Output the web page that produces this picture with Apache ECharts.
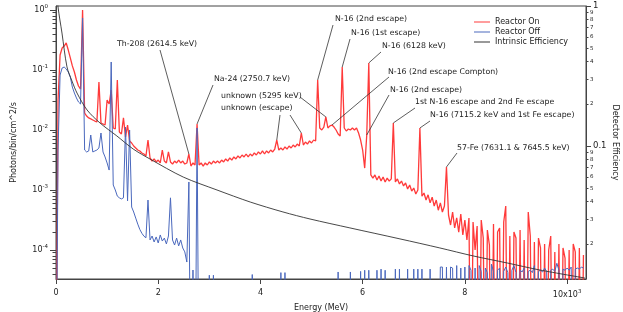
<!DOCTYPE html>
<html><head><meta charset="utf-8">
<script src="https://cdn.jsdelivr.net/npm/echarts@6/dist/echarts.min.js"></script>
<style>html,body{margin:0;padding:0;background:#fff}#c{width:623px;height:312px}</style>
</head><body><div id="c"></div>
<script>
// ---------------- DATA ----------------
const channelWidth = 0.04; // MeV per spectrum channel (channel i sits at i*channelWidth)

// Reactor On, photons/bin/cm^2/s per channel (0 = empty channel)
const reactorOn = [
  0, 0.0316, 0.178, 0.233, 0.251, 0.282, 0.215, 0.159, 0.117, 0.0926,
  0.0681, 0.0541, 0.0482, 1.0, 0.0192, 0.0171, 0.0159, 0.0153, 0.0147, 0.0141,
  0.0136, 0.0631, 0.0131, 0.0126, 0.0121, 0.0316, 0.0271, 0.0464, 0.0108, 0.0104,
  0.0681, 0.00926, 0.00858, 0.0159, 0.00764, 0.0121, 0.00656, 0.00607, 0.00541, 0.00501,
  0.00464, 0.00447, 0.00414, 0.00398, 0.00369, 0.00681, 0.00342, 0.00304, 0.00329, 0.00293,
  0.00316, 0.00282, 0.00464, 0.00304, 0.00282, 0.0043, 0.00293, 0.00271, 0.00304, 0.00282,
  0.00316, 0.00282, 0.00304, 0.00271, 0.00282, 0.00398, 0.00251, 0.00282, 0.00261, 0.0126,
  0.00261, 0.00282, 0.00251, 0.00282, 0.00261, 0.00293, 0.00271, 0.00304, 0.00282, 0.00304,
  0.00282, 0.00316, 0.00293, 0.00329, 0.00304, 0.00342, 0.00316, 0.00355, 0.00329, 0.00369,
  0.00342, 0.00383, 0.00355, 0.00398, 0.00355, 0.00398, 0.00369, 0.00414, 0.00383, 0.0043,
  0.00398, 0.00447, 0.00398, 0.00447, 0.00414, 0.00464, 0.0043, 0.00482, 0.00681, 0.00464,
  0.00501, 0.00464, 0.00521, 0.00482, 0.00541, 0.00501, 0.00562, 0.00521, 0.00584, 0.00541,
  0.00891, 0.00562, 0.00631, 0.00584, 0.00656, 0.00607, 0.00681, 0.00656, 0.0681, 0.0108,
  0.01, 0.0112, 0.0165, 0.0108, 0.0117, 0.0121, 0.0112, 0.01, 0.00858, 0.00794,
  0.112, 0.0108, 0.00962, 0.0104, 0.01, 0.0108, 0.01, 0.0108, 0.00891, 0.00681,
  0.00464, 0.00232, 0.00825, 0.131, 0.00178, 0.00158, 0.00178, 0.00147, 0.00171, 0.00141,
  0.00165, 0.00136, 0.00158, 0.00141, 0.00153, 0.0131, 0.00136, 0.00153, 0.00126, 0.00141,
  0.00117, 0.00131, 0.00104, 0.00121, 0.00096, 0.00108, 0.00086, 0.001, 0.0108, 0.00079,
  0.00089, 0.00068, 0.00083, 0.00061, 0.00076, 0.00054, 0.00068, 0.00046, 0.00061, 0.00043,
  0.00054, 0.00242, 3.83e-4, 2.61e-4, 4.3e-4, 2.33e-4, 3.42e-4, 1.99e-4, 3.98e-4, 1.78e-4,
  3.16e-4, 1.47e-4, 3.42e-4, 0, 2.93e-4, 1.0e-4, 2.51e-4, 0, 3.16e-4, 1.58e-4,
  0, 2.15e-4, 1.21e-4, 0, 2.71e-4, 0, 1.99e-4, 2.33e-4, 0, 2.93e-4,
  5.4e-4, 0, 1.71e-4, 0, 1.99e-4, 1.58e-4, 0, 2.15e-4, 0, 1.47e-4,
  0, 4.3e-4, 1.71e-4, 0, 1.36e-4, 0, 1.58e-4, 1.08e-4, 0, 1.26e-4,
  0, 1.0e-4, 1.71e-4, 0, 9.3e-5, 0, 1.26e-4, 0, 1.08e-4, 7.3e-5,
  0, 1.0e-4, 0, 1.26e-4, 9.3e-5, 0, 1.08e-4, 0, 8.25e-5
];

// Reactor Off, photons/bin/cm^2/s per channel (0 = empty channel)
const reactorOff = [
  0, 0.00464, 0.0825, 0.108, 0.112, 0.104, 0.0926, 0.0764, 0.052, 0.0413,
  0.0342, 0.0293, 0.0271, 0.736, 0.00464, 0.0043, 0.00447, 0.00825, 0.0043, 0.00447,
  0.00464, 0.00501, 0.00891, 0.0043, 0.00355, 0.00282, 0.00215, 0.136, 0.00121, 0.001,
  0.00079, 0.00074, 0.00071, 0.00074, 0.0112, 0.00066, 0.01, 0.00052, 0.00043, 0.00034,
  0.00027, 0.00022, 0.00019, 0.00017, 0.00016, 0.00068, 1.47e-4, 1.71e-4, 1.36e-4, 1.65e-4,
  1.31e-4, 1.78e-4, 1.41e-4, 1.58e-4, 1.26e-4, 1.71e-4, 7.4e-4, 1.47e-4, 1.21e-4, 1.58e-4,
  1.17e-4, 1.47e-4, 1.08e-4, 9.3e-5, 6.3e-5, 0.00136, 0, 4.64e-5, 0, 0.0108,
  0, 0, 0, 0, 0, 3.8e-5, 0, 3.8e-5, 0, 0,
  0, 0, 0, 0, 0, 0, 0, 0, 0, 0,
  0, 0, 0, 0, 0, 0, 3.9e-5, 0, 0, 0,
  0, 0, 0, 0, 0, 0, 0, 0, 0, 0,
  4.2e-5, 0, 4.2e-5, 0, 0, 0, 0, 0, 0, 0,
  0, 0, 0, 0, 0, 0, 0, 0, 0, 0,
  0, 0, 0, 0, 0, 0, 0, 0, 4.3e-5, 0,
  0, 0, 0, 0, 4.3e-5, 0, 0, 0, 0, 4.4e-5,
  0, 4.6e-5, 0, 4.6e-5, 0, 0, 0, 4.6e-5, 0, 4.8e-5,
  0, 4.6e-5, 0, 0, 0, 0, 4.8e-5, 0, 4.8e-5, 0,
  0, 0, 4.8e-5, 0, 0, 4.8e-5, 0, 4.8e-5, 0, 4.8e-5,
  0, 0, 0, 4.8e-5, 0, 0, 0, 0, 5.2e-5, 5.2e-5,
  0, 5.2e-5, 0, 5.2e-5, 5.0e-5, 0, 5.5e-5, 0, 5.0e-5, 0,
  5.2e-5, 0, 5.5e-5, 4.6e-5, 0, 5.0e-5, 0, 5.5e-5, 4.4e-5, 0,
  5.0e-5, 4.2e-5, 0, 5.8e-5, 4.4e-5, 0, 4.6e-5, 5.0e-5, 0, 4.4e-5,
  5.2e-5, 4.2e-5, 0, 4.6e-5, 5.5e-5, 4.2e-5, 0, 4.6e-5, 4.3e-5, 5.0e-5,
  0, 4.4e-5, 4.6e-5, 4.2e-5, 5.5e-5, 0, 4.4e-5, 4.6e-5, 4.3e-5, 5.0e-5,
  4.4e-5, 0, 4.6e-5, 4.8e-5, 4.4e-5, 6.0e-5, 4.6e-5, 0, 4.8e-5, 4.6e-5,
  5.0e-5, 4.6e-5, 5.2e-5, 0, 4.8e-5, 5.0e-5, 4.8e-5, 5.2e-5, 5.0e-5
];

// Intrinsic detector efficiency (right axis)
const effEnergy = [0.02, 0.04, 0.117, 0.215, 0.313, 0.411, 0.607, 0.861, 1.19, 1.51, 1.84, 2.49, 3.15, 3.80, 4.44, 4.97, 5.75, 6.73, 7.51, 8.16, 8.83, 9.47, 10.35];
const effValue  = [1.3, 0.984, 0.641, 0.367, 0.291, 0.239, 0.181, 0.146, 0.118, 0.0952, 0.0807, 0.060, 0.0485, 0.0398, 0.0338, 0.0301, 0.026, 0.0217, 0.0187, 0.0164, 0.0146, 0.013, 0.0114];

// Tick values
const xTickValues = [0, 2, 4, 6, 8, 10];
const leftMajorTicks = [1e-4, 1e-3, 1e-2, 1e-1, 1];
const rightMajorTicks = [0.1, 1];
const rightMinorTicks = [0.02, 0.03, 0.04, 0.05, 0.06, 0.07, 0.08, 0.09, 0.2, 0.3, 0.4, 0.5, 0.6, 0.7, 0.8, 0.9];

// Peak annotations: text and the Reactor On channel(s) each one points at
const annoText = [
  'Th-208 (2614.5 keV)', 'Na-24 (2750.7 keV)', 'unknown (5295 keV)', 'unknown (escape)',
  'N-16 (2nd escape)', 'N-16 (1st escape)', 'N-16 (6128 keV)', 'N-16 (2nd escape Compton)',
  'N-16 (2nd escape)', '1st N-16 escape and 2nd Fe escape', 'N-16 (7115.2 keV and 1st Fe escape)',
  '57-Fe (7631.1 & 7645.5 keV)'
];
const annoChannels = [[65], [69], [132], [108, 120], [128], [140], [153], [135], [152], [165], [178], [191]];

// ---------------- LAYOUT (pixels) ----------------
const annoLayout = [
  {t: [117, 44], s: [[160, 50]]},
  {t: [214, 79], s: [[213, 85]]},
  {t: [221, 96], s: [[300, 97]]},
  {t: [221, 108], s: [[280, 115], [290, 115]]},
  {t: [335, 19], s: [[333, 25]]},
  {t: [351, 33], s: [[350, 39]]},
  {t: [382, 46], s: [[381, 52]]},
  {t: [388, 72], s: [[389, 77]]},
  {t: [390, 90], s: [[389, 95]]},
  {t: [415, 102], s: [[415, 108]]},
  {t: [430, 115], s: [[430, 121]]},
  {t: [457, 148], s: [[457, 153]]}
];

const FONT = '"DejaVu Sans", sans-serif';
const AX = '#444';
const TXT = '#222';
const FLOOR = 1e-7; // empty channels are drawn below the axis floor

function toSeries(arr) {
  return arr.map((v, i) => [+(i * channelWidth).toFixed(2), v > 0 ? v : FLOOR]);
}

const leftMin = 3.285e-5, leftMax = 1.166;
const rightMin = 0.01122, rightMax = 1.0;
const leftMinorTicks = [1e-5, 1e-4, 1e-3, 1e-2, 1e-1].flatMap(d => [2,3,4,5,6,7,8,9].map(m => +(m * d).toPrecision(3)));

const option = {
  animation: false,
  textStyle: {fontFamily: FONT},
  grid: {left: 56, right: 37, top: 6, bottom: 33, containLabel: false, outerBoundsMode: 'none',
    show: true, borderColor: AX, borderWidth: 1, backgroundColor: 'transparent'},
  legend: {
    data: ['Reactor On', 'Reactor Off', 'Intrinsic Efficiency'],
    orient: 'vertical', left: 474, top: 17, padding: 0, itemGap: 0,
    itemWidth: 16, itemHeight: 1, icon: 'rect',
    textStyle: {fontSize: 8, lineHeight: 10, color: TXT, fontFamily: FONT}
  },
  xAxis: {
    type: 'value', min: 0, max: 10.37,
    name: 'Energy (MeV)', nameLocation: 'middle', nameGap: 22,
    nameTextStyle: {fontSize: 8, color: TXT},
    axisLine: {onZero: false, lineStyle: {color: AX, width: 1}},
    axisTick: {customValues: xTickValues, length: 5, lineStyle: {color: AX}},
    axisLabel: {customValues: xTickValues, fontSize: 8, color: TXT, margin: 10,
      formatter: v => v === 10 ? '10x10{s|3}' : String(v),
      rich: {s: {fontSize: 5.5, padding: [0, 0, 6, 0], color: TXT}}},
    splitLine: {show: false}
  },
  yAxis: [
    { // left, main spectrum axis
      type: 'log', logBase: 10, min: leftMin, max: leftMax, position: 'left',
      name: 'Photons/bin/cm^2/s', nameLocation: 'middle', nameGap: 38, nameRotate: 90,
      nameMoveOverlap: false,
      nameTextStyle: {fontSize: 8, color: TXT},
      axisLine: {show: true, lineStyle: {color: AX, width: 1}},
      axisTick: {customValues: leftMajorTicks, length: 6, lineStyle: {color: AX}},
      axisLabel: {customValues: leftMajorTicks, fontSize: 8, color: TXT, margin: 8,
        formatter: v => '10{s|' + Math.round(Math.log10(v)) + '}',
        rich: {s: {fontSize: 5.5, padding: [0, 0, 6, 0], color: TXT}}},
      splitLine: {show: false}
    },
    { // right, efficiency axis
      type: 'log', logBase: 10, min: rightMin, max: rightMax, position: 'right',
      name: 'Detector Efficiency', nameLocation: 'middle', nameGap: 25, nameRotate: -90,
      nameMoveOverlap: false,
      nameTextStyle: {fontSize: 8, color: TXT},
      axisLine: {show: true, lineStyle: {color: AX, width: 1}},
      axisTick: {customValues: rightMajorTicks, length: 5, lineStyle: {color: AX}},
      axisLabel: {customValues: rightMajorTicks, fontSize: 8.5, color: TXT, margin: 7,
        formatter: v => (v >= 1 ? '1' : '0.1')},
      splitLine: {show: false}
    },
    { // left minor ticks
      type: 'log', logBase: 10, min: leftMin, max: leftMax, position: 'left',
      axisLine: {show: false},
      axisTick: {customValues: leftMinorTicks, length: 3.5, lineStyle: {color: AX}},
      axisLabel: {show: false}, splitLine: {show: false}
    },
    { // right minor ticks with digit labels
      type: 'log', logBase: 10, min: rightMin, max: rightMax, position: 'right',
      axisLine: {show: false},
      axisTick: {customValues: rightMinorTicks, length: 2.5, lineStyle: {color: AX}},
      axisLabel: {customValues: rightMinorTicks, fontSize: 5.5, color: TXT, margin: 4,
        formatter: v => String(Math.round(v / Math.pow(10, Math.floor(Math.log10(v) + 1e-9))))},
      splitLine: {show: false}
    }
  ],
  series: [
    {name: 'Reactor On', type: 'line', data: toSeries(reactorOn), yAxisIndex: 0, showSymbol: false,
      symbol: 'none', smooth: false, color: '#ff3a3a', lineStyle: {color: '#ff3a3a', width: 1.3}, z: 2},
    {name: 'Reactor Off', type: 'line', data: toSeries(reactorOff), yAxisIndex: 0, showSymbol: false,
      symbol: 'none', smooth: false, color: '#4a68bd', lineStyle: {color: '#4a68bd', width: 1.0}, z: 3},
    {name: 'Intrinsic Efficiency', type: 'line', data: effEnergy.map((e, i) => [e, effValue[i]]), yAxisIndex: 1,
      showSymbol: false, symbol: 'none', smooth: 0.3, color: '#333', lineStyle: {color: '#333', width: 0.9}, z: 4}
  ]
};

const chart = echarts.init(document.getElementById('c'), null, {renderer: 'canvas'});
chart.setOption(option);

// Peak annotations with leader lines to the data peaks
const gfx = [];
annoText.forEach((txt, k) => {
  const L = annoLayout[k];
  gfx.push({type: 'text', x: L.t[0], y: L.t[1], z: 100,
    style: {text: txt, fontSize: 7.8, fontFamily: FONT, fill: TXT, verticalAlign: 'middle', align: 'left'}});
  annoChannels[k].forEach((ch, j) => {
    const p = chart.convertToPixel({xAxisIndex: 0, yAxisIndex: 0}, [+(ch * channelWidth).toFixed(2), reactorOn[ch]]);
    const s = L.s[j];
    gfx.push({type: 'line', z: 100, shape: {x1: s[0], y1: s[1], x2: p[0], y2: p[1]},
      style: {stroke: '#333', lineWidth: 0.8}});
  });
});
chart.setOption({graphic: gfx});
</script>
</body></html>
